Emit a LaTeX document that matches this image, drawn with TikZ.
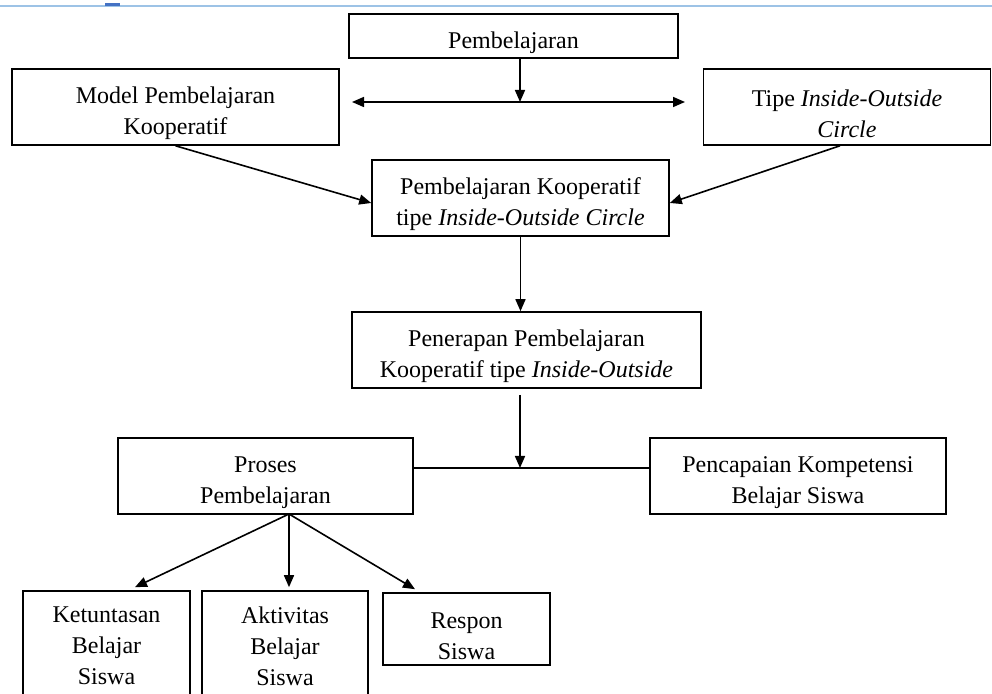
\documentclass[tikz,border=0pt]{standalone}
\usepackage{fontspec}
\setmainfont{Liberation Serif}
\usetikzlibrary{arrows.meta}
\newcommand{\tpad}{\rule{0pt}{15pt}}

\begin{document}
\begin{tikzpicture}
	[x=0.5pt, y=-0.5pt, line width=0.8pt,
	>={Triangle[length=6pt,width=5pt]},
	every node/.style={font=\fontsize{12}{15.5}\selectfont},
	box/.style={draw,rectangle,align=center,inner sep=2pt,minimum height=38pt}]
	\useasboundingbox (0,0) rectangle (992,694);
	\clip (0,0) rectangle (992,694);
	\draw [line width=1pt, color={rgb,255:red,157;green,195;blue,230}] (0,6) -- (992,6);
	\draw [line width=1.5pt, color={rgb,255:red,68;green,114;blue,196}] (105,5) -- (120,5);
	\node (pemb) [box, minimum width=164.5pt, minimum height=22pt] at (513.5,36) {\tpad Pembelajaran};
	\node (model) [box, minimum width=163.5pt] at (175.5,107) {\tpad Model Pembelajaran\\Kooperatif};
	\node (tipe) [box, minimum width=143.5pt] at (847,107) {\tpad Tipe \textit{Inside-Outside}\\\textit{Circle}};
	\node (pk) [box, minimum width=148.5pt] at (520.5,198) {\tpad Pembelajaran Kooperatif\\tipe \textit{Inside-Outside Circle}};
	\node (pen) [box, minimum width=174.5pt] at (526.5,350) {\tpad Penerapan Pembelajaran\\Kooperatif tipe \textit{Inside-Outside}};
	\node (proses) [box, minimum width=147.5pt] at (265.5,476) {\tpad Proses\\Pembelajaran};
	\node (pcp) [box, minimum width=148pt] at (798,476) {\tpad Pencapaian Kompetensi\\Belajar Siswa};
	\node (ket) [box, minimum width=83.5pt, minimum height=55pt] at (106.5,646) {Ketuntasan\\Belajar\\Siswa};
	\node (akt) [box, minimum width=83pt, minimum height=55pt] at (285,646) {Aktivitas\\Belajar\\Siswa};
	\node (resp) [box, minimum width=83.5pt, minimum height=36pt] at (466.5,629) {\tpad Respon\\Siswa};
	\coordinate (jtop) at (520,102);
	\coordinate (lend) at (352,102);
	\coordinate (rend) at (685,102);
	\coordinate (jmid) at (520,468);
	\coordinate (pb) at (289,514);
	\draw [->] (pemb.south -| jtop) -- (jtop);
	\draw [<->] (lend) -- (rend);
	\draw [->] (model.south) -- ([yshift=-2.5pt]pk.west);
	\draw [->] ([xshift=-3.5pt]tipe.south) -- ([yshift=-2.5pt]pk.east);
	\draw [->] (pk.south) -- (pk.south |- pen.north);
	\draw [->] ([yshift=-3pt]pen.south -| jmid) -- (jmid);
	\draw (proses.east |- jmid) -- (pcp.west |- jmid);
	\draw [->] (pb) -- ([xshift=14.25pt,yshift=1.5pt]ket.north);
	\draw [->] (pb) -- ([yshift=1.5pt]pb |- akt.north);
	\draw [->] (pb) -- ([xshift=-25.75pt,yshift=1.5pt]resp.north);
\end{tikzpicture}
\end{document}
